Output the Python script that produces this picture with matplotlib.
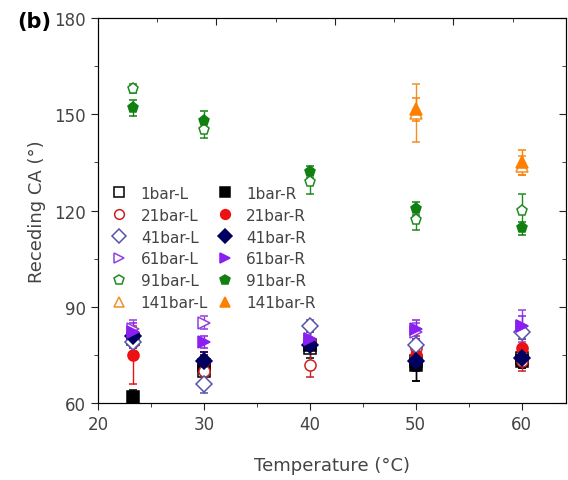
import numpy as np
import matplotlib
matplotlib.use('Agg')
import matplotlib.pyplot as plt
from matplotlib.ticker import MultipleLocator
from matplotlib.lines import Line2D

# temperatures (degC)
T = [23.3, 30, 40, 50, 60]
T141 = [50, 60]

# receding contact angles and errors
ca_1L = [80, 70, 77, 73, 74]
er_1L = [3, 4, 3, 6, 3]
ca_1R = [62, 72, 78, 72, 73]
er_1R = [2, 3, 2, 5, 2]
ca_21L = [79, 70, 72, 77, 73]
er_21L = [3, 4, 4, 4, 3]
ca_21R = [75, 73, 79, 75, 77]
er_21R = [9, 3, 3, 3, 3]
ca_41L = [79, 66, 84, 78, 82]
er_41L = [2, 3, 2, 2, 2]
ca_41R = [81, 73, 78, 73, 74]
er_41R = [2, 3, 2, 3, 2]
ca_61L = [83, 85, 80, 82, 84]
er_61L = [3, 2, 2, 3, 5]
ca_61R = [82, 79, 80, 83, 84]
er_61R = [3, 2, 2, 3, 3]
ca_91L = [158, 145, 129, 117, 120]
er_91L = [1.5, 2.5, 4, 3, 5]
ca_91R = [152, 148, 132, 120.5, 114.5]
er_91R = [2.5, 3, 2, 2, 2]
ca_141L = [150.5, 134]
er_141L = [9, 3]
ca_141R = [151.5, 135]
er_141R = [3.5, 4]

series = [
    ('1bar-L', T, ca_1L, er_1L, 's', 'black', False),
    ('1bar-R', T, ca_1R, er_1R, 's', 'black', True),
    ('21bar-L', T, ca_21L, er_21L, 'o', '#cc2020', False),
    ('21bar-R', T, ca_21R, er_21R, 'o', '#ee1111', True),
    ('41bar-L', T, ca_41L, er_41L, 'D', '#5555aa', False),
    ('41bar-R', T, ca_41R, er_41R, 'D', '#000060', True),
    ('61bar-L', T, ca_61L, er_61L, '>', '#9040e0', False),
    ('61bar-R', T, ca_61R, er_61R, '>', '#8a20f0', True),
    ('91bar-L', T, ca_91L, er_91L, 'p', '#208a20', False),
    ('91bar-R', T, ca_91R, er_91R, 'p', '#118011', True),
    ('141bar-L', T141, ca_141L, er_141L, '^', '#f0902a', False),
    ('141bar-R', T141, ca_141R, er_141R, '^', '#ff8000', True),
]

fig = plt.figure(figsize=(5.68, 4.81), dpi=100)
ax = fig.add_axes([0.1725, 0.160, 0.824, 0.8005])

handles_L, handles_R = [], []
for lab, x, y, e, m, c, filled in series:
    fc = c if filled else 'white'
    ax.errorbar(x, y, yerr=e, fmt=m, ms=8, mfc=fc, mec=c, mew=1.1,
                ecolor=c, elinewidth=1, capsize=3)
    h = Line2D([], [], ls='none', marker=m, ms=7, mfc=fc, mec=c, mew=1.1, label=lab)
    (handles_R if filled else handles_L).append(h)

ax.set_xlim(20, 64.2)
ax.set_ylim(60, 180)
ax.set_xticks([20, 30, 40, 50, 60])
ax.set_yticks([60, 90, 120, 150, 180])
ax.xaxis.set_minor_locator(MultipleLocator(5))
ax.yaxis.set_minor_locator(MultipleLocator(15))
ax.tick_params(which='both', direction='out', top=False, colors='#222222',
               labelcolor='#444444', labelsize=12)
ax.tick_params(axis='y', which='both', right=True)
ax.tick_params(which='major', length=5)
ax.tick_params(which='minor', length=3)
for s in ax.spines.values():
    s.set_color('#222222')

# top axis has its own (slightly different) tick spacing
ax2 = ax.twiny()
ax2.set_xlim(20, 59.5)
ax2.set_xticks([30, 40, 50])
ax2.xaxis.set_minor_locator(MultipleLocator(5))
ax2.tick_params(which='both', direction='in', labeltop=False, colors='#222222')
ax2.tick_params(which='major', length=5)
ax2.tick_params(which='minor', length=3)
for tk in ax.yaxis.get_major_ticks() + ax.yaxis.get_minor_ticks():
    tk.tick2line.set_marker(0)  # right ticks point inward

ax.set_xlabel('Temperature (\u00b0C)', fontsize=13, color='#444444', labelpad=17)
ax.set_ylabel('Receding CA (\u00b0)', fontsize=13, color='#444444', labelpad=6)
fig.text(0.03, 0.955, '(b)', fontsize=15, fontweight='bold', va='center')

leg = ax.legend(handles=handles_L + handles_R, ncol=2, loc='upper left',
                bbox_to_anchor=(0.0, 0.60), frameon=False, fontsize=11,
                handlelength=1.0, handletextpad=0.9, columnspacing=0.6,
                labelspacing=0.45, borderaxespad=0.5)
for t in leg.get_texts():
    t.set_color('#444444')

plt.savefig('out.png', dpi=100)
